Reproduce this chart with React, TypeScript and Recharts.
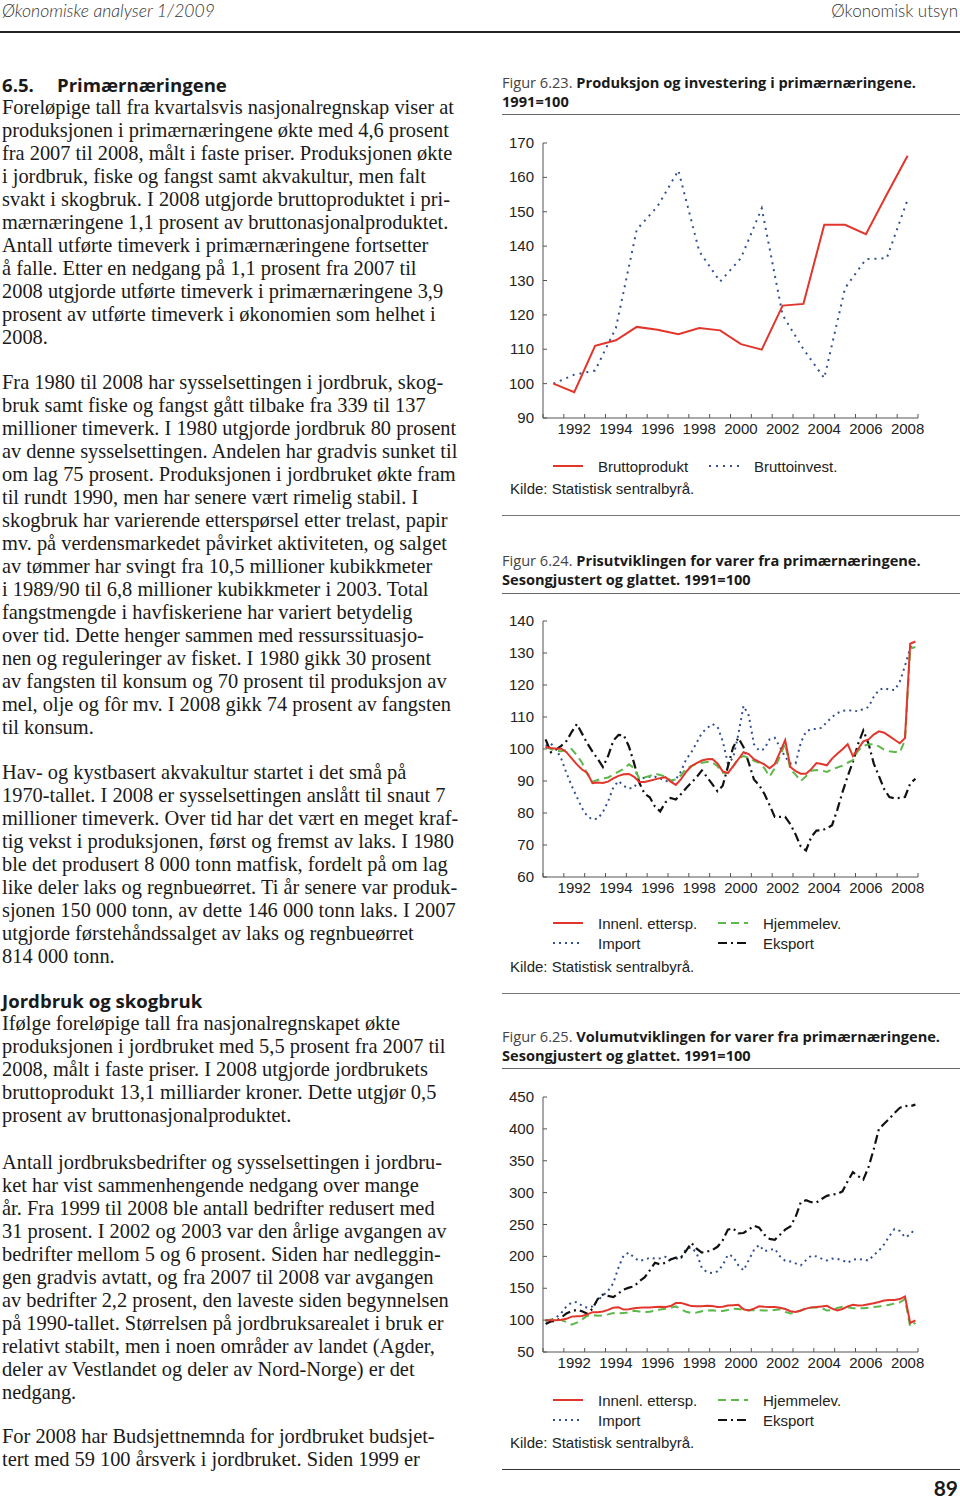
import { LineChart, Line, XAxis, YAxis } from "recharts";

// Figur 6.23 - årlige tall, 1991=100
const years = [1991, 1992, 1993, 1994, 1995, 1996, 1997, 1998, 1999, 2000, 2001, 2002, 2003, 2004, 2005, 2006, 2007, 2008];
const bruttoprodukt = [100, 97.5, 111, 112.6, 116.5, 115.7, 114.4, 116.2, 115.5, 111.5, 109.9, 122.7, 123.2, 146.2, 146.2, 143.5, 155, 166.3];
const bruttoinvest = [100, 102.6, 103.8, 116.2, 144.8, 151.6, 162, 138.5, 129.7, 136.5, 151, 120, 110, 101.6, 127.8, 136.2, 136.5, 153.5];

// Figur 6.24 - priser, kvartalstall 1991K1-2008K4
const quarters = ["K1", "K2", "K3", "K4"];
const prisInnenl = [
  100.6, 100.3, 100.1, 100.1, 99, 97.1, 95.2, 93.6, 92.5, 89.3, 89.5, 89.4,
  89.8, 90.8, 91.6, 92.1, 92.2, 91.3, 89.7, 89.7, 90.1, 90.5, 90.9, 91.2,
  89.8, 88.8, 90.6, 92.9, 94.7, 95.6, 96.4, 96.8, 96.9, 95.5, 93, 92.5,
  94.6, 96.8, 99, 98.4, 96.8, 96, 95.2, 94, 95.3, 99, 102.8, 94.4,
  93.1, 92.3, 92.3, 93.7, 95.6, 95.3, 94.9, 97, 98.5, 99.9, 101.5, 97.8,
  100, 102.4, 103, 104.5, 105.5, 105.1, 104, 102.9, 101.8, 103.4, 132.9, 133.6,
];
const prisHjemme = [
  100.6, 100, 99.4, 99.3, 99.8, 100, 98, 95.7, 92.2, 89.8, 90.3, 90.8,
  91.1, 92, 92.9, 93.8, 95.2, 94, 90.7, 91.1, 91.6, 92.3, 91.9, 91.4,
  90.2, 90.5, 91.8, 94, 94.6, 95.4, 95.7, 95.9, 95.9, 94.6, 92.6, 92.5,
  94.6, 97, 97.8, 97.2, 96.3, 95.7, 94, 91.4, 94, 97.8, 101.7, 93.5,
  92, 90, 91.5, 93.2, 93.4, 93.3, 92.8, 93.7, 94.2, 94.8, 95.7, 96.5,
  99.5, 101, 101.4, 101.5, 100.8, 99.8, 99.3, 99.1, 99, 102.7, 131.4, 131.9,
];
const prisImport = [
  101, 101.7, 100, 97, 92.5, 88.5, 85, 81.5, 79, 78, 78.2, 80.3,
  83.6, 88, 90, 88.5, 87.6, 88, 90.6, 91, 91.3, 91.3, 90.8, 90,
  89.9, 90.5, 93, 96.8, 99, 102, 105, 106.5, 107.8, 107, 102.5, 95.5,
  97.2, 104.5, 113.5, 110.5, 101.5, 99.5, 100, 103, 103.5, 100.6, 97.5, 95.5,
  95.5, 102, 105.5, 106.2, 106.3, 106.6, 108.4, 110, 111.2, 111.9, 112.1, 112,
  111.8, 112.5, 113.1, 116.3, 118.5, 119, 118.6, 118.4, 121, 126, 131.5, 132.6,
];
const prisEksport = [
  103, 99, 99.8, 101, 102.5, 105.3, 107.8, 104.8, 101.8, 99.2, 96.9, 94.4,
  97.8, 102.6, 104.4, 104.3, 100.8, 95.5, 89.4, 86, 84.9, 82, 80.5, 83.3,
  84.7, 84.2, 85.9, 87.8, 89.5, 91.2, 93.3, 91.2, 89, 86.8, 88.5, 94.5,
  100.5, 103.5, 100.6, 95.7, 90.5, 88.7, 86, 82.5, 78.8, 78.8, 78.8, 76.5,
  73.3, 69.5, 68.3, 72.5, 74.5, 74.6, 75.2, 76.2, 81, 86.5, 91.5, 96,
  101.6, 105.8, 101.7, 95.5, 91.5, 87.5, 85, 84.6, 84.7, 85, 89.2, 90.7,
];

// Figur 6.25 - volum, kvartalstall 1991K1-2008K4
const volInnenl = [
  100, 100, 100, 100.5, 102, 105.5, 106, 106.5, 109, 112.5, 112.5, 113.5,
  116, 119.5, 120, 116.5, 117, 118.5, 119.5, 120, 120, 120.5, 121, 120.5,
  122, 126.8, 127, 124.5, 122, 121.6, 121.6, 122.5, 122, 120.5, 121, 123,
  123.5, 124, 117, 115, 118, 121.6, 121, 120.6, 120.6, 119.5, 117.5, 114,
  112.7, 115, 118, 120, 120.5, 121.5, 122.5, 118, 115, 117.5, 121.5, 124,
  123, 123.5, 125, 126.5, 128.5, 130.8, 131.6, 131.6, 133, 137, 95.5, 99.7,
];
const volHjemme = [
  99, 101, 100.5, 100, 97, 93, 96, 101, 107, 108, 107, 107.5,
  109, 111, 110.5, 111, 112.5, 114.5, 113.5, 112.5, 113, 115, 116.5, 118,
  119.5, 121.5, 117, 113, 111, 112, 114, 115, 115.5, 114.5, 114.5, 116,
  118, 117.5, 116, 115.5, 115.5, 115.5, 115, 115, 116, 117, 113, 110.6,
  112, 115, 118.5, 119.5, 120, 119, 115, 116, 119, 121, 120, 118.5,
  118.5, 118.5, 119.5, 120.5, 121.5, 122.5, 124, 126, 128, 133, 90, 96,
];
const volImport = [
  98.9, 100, 104, 111, 121.5, 127.5, 128.5, 122.5, 119.3, 121.5, 131, 138.4,
  146, 158, 182.5, 202, 205.8, 198, 192.6, 194.8, 197.8, 196.5, 197, 199.4,
  195.8, 196.3, 198, 212, 214, 205, 181.8, 175, 174, 176.5, 186, 202.7,
  200, 186, 178, 194, 210, 218, 208, 210, 212, 200, 193, 192,
  189, 186, 194, 201, 200, 196.5, 193.5, 196.5, 196, 194, 190, 194.8,
  196, 195, 193.3, 202, 209, 219, 232, 243, 240, 230, 234, 244.5,
];
const volEksport = [
  94, 98, 98.5, 104, 110.5, 114, 116, 114, 110, 118, 133, 140,
  138, 136, 142, 148, 151, 153, 161, 167, 178, 190, 187.5, 190,
  195, 198, 198, 209, 221, 212, 206, 207.5, 210, 215, 225, 242,
  244, 236, 236.7, 242, 248, 245, 234, 227.5, 226, 234, 242, 247,
  262, 285, 288, 285, 284.5, 290, 295, 297, 298, 302, 318, 332,
  326, 320.3, 340, 368, 400, 408, 416, 425, 433, 436, 435.5, 438,
];

const yearTicks = [...years, 2009];
const PLOT_W = 375;
const YEAR_W = PLOT_W / 18;

const RED = "#e2362c";
const BLUE = "#33508f";
const GREEN = "#5db84a";
const BLACK = "#111";

const annualData = years.map((y, i) => ({
  x: y + 0.5,
  brutto: bruttoprodukt[i],
  invest: bruttoinvest[i],
}));

const quarterRows = (a: number[], b: number[], c: number[], d: number[]) =>
  years.flatMap((y, i) =>
    quarters.map((q, j) => ({
      x: y + (j + 0.5) / 4,
      label: `${y}${q}`,
      innenl: a[i * 4 + j],
      hjemme: b[i * 4 + j],
      import: c[i * 4 + j],
      eksport: d[i * 4 + j],
    }))
  );

const prisData = quarterRows(prisInnenl, prisHjemme, prisImport, prisEksport);
const volumData = quarterRows(volInnenl, volHjemme, volImport, volEksport);

const axisFont = "'Liberation Sans', Arial, sans-serif";
const titleFont = "'Open Sans', Lato, sans-serif";
const headFont = "Lato, 'Open Sans', sans-serif";
const bodyFont = "'Liberation Serif', 'Times New Roman', serif";

function YearTick(props: any) {
  const { x, y, payload } = props;
  const yr = payload.value;
  return (
    <g>
      <line x1={x} x2={x} y1={y} y2={y - 4} stroke="#555" />
      {yr % 2 === 0 && yr < 2009 && (
        <text x={x + YEAR_W / 2} y={y + 16} textAnchor="middle" fontSize={15} fontFamily={axisFont} fill="#222">
          {yr}
        </text>
      )}
    </g>
  );
}

function ValueTick(props: any) {
  const { x, y, payload } = props;
  return (
    <g>
      <line x1={x} x2={x + 4} y1={y} y2={y} stroke="#555" />
      <text x={x - 9} y={y + 5} textAnchor="end" fontSize={15} fontFamily={axisFont} fill="#222">
        {payload.value}
      </text>
    </g>
  );
}

interface SeriesDef {
  key: string;
  color: string;
  dash?: string;
  width?: number;
}

function Chart({ top, plotH, data, series, domain, ticks }: { top: number; plotH: number; data: any[]; series: SeriesDef[]; domain: [number, number]; ticks: number[] }) {
  return (
    <div style={{ position: "absolute", left: 500, top }}>
      <LineChart width={460} height={13 + plotH + 30} data={data} margin={{ top: 13, right: 42, left: 0, bottom: 0 }}>
        <XAxis
          dataKey="x"
          type="number"
          domain={[1991, 2009]}
          ticks={yearTicks}
          interval={0}
          height={30}
          tickSize={0}
          tickMargin={0}
          tickLine={false}
          tick={<YearTick />}
          axisLine={{ stroke: "#555" }}
        />
        <YAxis
          type="number"
          domain={domain}
          ticks={ticks}
          interval={0}
          width={43}
          tickSize={0}
          tickMargin={0}
          tickLine={false}
          tick={<ValueTick />}
          axisLine={{ stroke: "#555" }}
        />
        {series.map((s) => (
          <Line
            key={s.key}
            dataKey={s.key}
            type="linear"
            stroke={s.color}
            strokeWidth={s.width ?? 2}
            strokeDasharray={s.dash}
            dot={false}
            isAnimationActive={false}
          />
        ))}
      </LineChart>
    </div>
  );
}

function LegendItem({ left, top, color, dash, label }: { left: number; top: number; color: string; dash?: string; label: string }) {
  return (
    <div style={{ position: "absolute", left, top, height: 20, display: "flex", alignItems: "center", whiteSpace: "nowrap" }}>
      <svg width={30} height={4} style={{ display: "block" }}>
        <line x1={0} x2={30} y1={2} y2={2} stroke={color} strokeWidth={2} strokeDasharray={dash} />
      </svg>
      <span style={{ marginLeft: 15, fontFamily: axisFont, fontSize: 15, color: "#222" }}>{label}</span>
    </div>
  );
}

function Rule({ top, left = 502, width = 458, color = "#666", h = 1.5 }: { top: number; left?: number; width?: number; color?: string; h?: number }) {
  return <div style={{ position: "absolute", left, top, width, height: h, background: color }} />;
}

function FigTitle({ top, num, lines }: { top: number; num: string; lines: string[] }) {
  return (
    <div style={{ position: "absolute", left: 502, top, fontFamily: titleFont, fontSize: 14.6, lineHeight: "19px", color: "#1a1a1a", whiteSpace: "nowrap" }}>
      <div>
        <span style={{ fontWeight: 400, color: "#444" }}>{num} </span>
        <span style={{ fontWeight: 700 }}>{lines[0]}</span>
      </div>
      <div style={{ fontWeight: 700 }}>{lines[1]}</div>
    </div>
  );
}

function Kilde({ top }: { top: number }) {
  return (
    <div style={{ position: "absolute", left: 510, top, fontFamily: axisFont, fontSize: 15, lineHeight: "20px", color: "#222" }}>
      Kilde: Statistisk sentralbyrå.
    </div>
  );
}

function Para({ top, lines, heading }: { top: number; lines: string[]; heading?: React.ReactNode }) {
  return (
    <div style={{ position: "absolute", left: 2, top, fontFamily: bodyFont, fontSize: 20.4, lineHeight: "23px", color: "#1a1a1a" }}>
      {heading && (
        <div style={{ fontFamily: titleFont, fontWeight: 700, fontSize: 18.6, height: 23, whiteSpace: "nowrap" }}>{heading}</div>
      )}
      {lines.map((l, i) => (
        <div key={i} style={{ height: 23, whiteSpace: "nowrap" }}>
          {l}
        </div>
      ))}
    </div>
  );
}

const quarterSeries: SeriesDef[] = [
  { key: "import", color: BLUE, dash: "2 4" },
  { key: "eksport", color: BLACK, dash: "9 4 2 4", width: 2.2 },
  { key: "hjemme", color: GREEN, dash: "8 5" },
  { key: "innenl", color: RED },
];

export default function App() {
  return (
    <div style={{ position: "absolute", left: 0, top: 0, width: 960, height: 1499, background: "#fff", overflow: "hidden" }}>
      {/* sidehode */}
      <div style={{ position: "absolute", left: 2, top: 0, fontFamily: headFont, fontStyle: "italic", fontWeight: 300, fontSize: 17.6, lineHeight: "22px", color: "#333" }}>
        Økonomiske analyser 1/2009
      </div>
      <div style={{ position: "absolute", right: 2, top: 0, fontFamily: headFont, fontWeight: 300, fontSize: 17, lineHeight: "22px", color: "#333" }}>
        Økonomisk utsyn
      </div>
      <Rule top={31} left={0} width={960} color="#222" h={2} />

      {/* venstre spalte */}
      <Para
        top={72.5}
        heading={
          <>
            <span style={{ display: "inline-block", width: 55 }}>6.5.</span>Primærnæringene
          </>
        }
        lines={[
          "Foreløpige tall fra kvartalsvis nasjonalregnskap viser at",
          "produksjonen i primærnæringene økte med 4,6 prosent",
          "fra 2007 til 2008, målt i faste priser. Produksjonen økte",
          "i jordbruk, fiske og fangst samt akvakultur, men falt",
          "svakt i skogbruk. I 2008 utgjorde bruttoproduktet i pri-",
          "mærnæringene 1,1 prosent av bruttonasjonalproduktet.",
          "Antall utførte timeverk i primærnæringene fortsetter",
          "å falle. Etter en nedgang på 1,1 prosent fra 2007 til",
          "2008 utgjorde utførte timeverk i primærnæringene 3,9",
          "prosent av utførte timeverk i økonomien som helhet i",
          "2008.",
        ]}
      />
      <Para
        top={370.5}
        lines={[
          "Fra 1980 til 2008 har sysselsettingen i jordbruk, skog-",
          "bruk samt fiske og fangst gått tilbake fra 339 til 137",
          "millioner timeverk. I 1980 utgjorde jordbruk 80 prosent",
          "av denne sysselsettingen. Andelen har gradvis sunket til",
          "om lag 75 prosent. Produksjonen i jordbruket økte fram",
          "til rundt 1990, men har senere vært rimelig stabil. I",
          "skogbruk har varierende etterspørsel etter trelast, papir",
          "mv. på verdensmarkedet påvirket aktiviteten, og salget",
          "av tømmer har svingt fra 10,5 millioner kubikkmeter",
          "i 1989/90 til 6,8 millioner kubikkmeter i 2003. Total",
          "fangstmengde i havfiskeriene har variert betydelig",
          "over tid. Dette henger sammen med ressurssituasjo-",
          "nen og reguleringer av fisket. I 1980 gikk 30 prosent",
          "av fangsten til konsum og 70 prosent til produksjon av",
          "mel, olje og fôr mv. I 2008 gikk 74 prosent av fangsten",
          "til konsum.",
        ]}
      />
      <Para
        top={760.5}
        lines={[
          "Hav- og kystbasert akvakultur startet i det små på",
          "1970-tallet. I 2008 er sysselsettingen anslått til snaut 7",
          "millioner timeverk. Over tid har det vært en meget kraf-",
          "tig vekst i produksjonen, først og fremst av laks. I 1980",
          "ble det produsert 8 000 tonn matfisk, fordelt på om lag",
          "like deler laks og regnbueørret. Ti år senere var produk-",
          "sjonen 150 000 tonn, av dette 146 000 tonn laks. I 2007",
          "utgjorde førstehåndssalget av laks og regnbueørret",
          "814 000 tonn.",
        ]}
      />
      <Para
        top={988.5}
        heading="Jordbruk og skogbruk"
        lines={[
          "Ifølge foreløpige tall fra nasjonalregnskapet økte",
          "produksjonen i jordbruket med 5,5 prosent fra 2007 til",
          "2008, målt i faste priser. I 2008 utgjorde jordbrukets",
          "bruttoprodukt 13,1 milliarder kroner. Dette utgjør 0,5",
          "prosent av bruttonasjonalproduktet.",
        ]}
      />
      <Para
        top={1150.5}
        lines={[
          "Antall jordbruksbedrifter og sysselsettingen i jordbru-",
          "ket har vist sammenhengende nedgang over mange",
          "år. Fra 1999 til 2008 ble antall bedrifter redusert med",
          "31 prosent. I 2002 og 2003 var den årlige avgangen av",
          "bedrifter mellom 5 og 6 prosent. Siden har nedleggin-",
          "gen gradvis avtatt, og fra 2007 til 2008 var avgangen",
          "av bedrifter 2,2 prosent, den laveste siden begynnelsen",
          "på 1990-tallet. Størrelsen på jordbruksarealet i bruk er",
          "relativt stabilt, men i noen områder av landet (Agder,",
          "deler av Vestlandet og deler av Nord-Norge) er det",
          "nedgang.",
        ]}
      />
      <Para
        top={1424.5}
        lines={[
          "For 2008 har Budsjettnemnda for jordbruket budsjet-",
          "tert med 59 100 årsverk i jordbruket. Siden 1999 er",
        ]}
      />

      {/* Figur 6.23 */}
      <FigTitle top={72.5} num="Figur 6.23." lines={["Produksjon og investering i primærnæringene.", "1991=100"]} />
      <Rule top={113.5} />
      <Chart
        top={130}
        plotH={275}
        data={annualData}
        domain={[90, 170]}
        ticks={[90, 100, 110, 120, 130, 140, 150, 160, 170]}
        series={[
          { key: "invest", color: BLUE, dash: "2 5" },
          { key: "brutto", color: RED },
        ]}
      />
      <LegendItem left={553} top={456} color={RED} label="Bruttoprodukt" />
      <LegendItem left={709} top={456} color={BLUE} dash="2 5" label="Bruttoinvest." />
      <Kilde top={479} />
      <Rule top={514.5} color="#777" />

      {/* Figur 6.24 */}
      <FigTitle top={550.5} num="Figur 6.24." lines={["Prisutviklingen for varer fra primærnæringene.", "Sesongjustert og glattet. 1991=100"]} />
      <Rule top={592.5} />
      <Chart
        top={608}
        plotH={256}
        data={prisData}
        domain={[60, 140]}
        ticks={[60, 70, 80, 90, 100, 110, 120, 130, 140]}
        series={quarterSeries}
      />
      <LegendItem left={553} top={913} color={RED} label="Innenl. ettersp." />
      <LegendItem left={718} top={913} color={GREEN} dash="8 5" label="Hjemmelev." />
      <LegendItem left={553} top={933} color={BLUE} dash="2 4" label="Import" />
      <LegendItem left={718} top={933} color={BLACK} dash="9 4 2 4" label="Eksport" />
      <Kilde top={957} />
      <Rule top={992.5} color="#777" />

      {/* Figur 6.25 */}
      <FigTitle top={1026.5} num="Figur 6.25." lines={["Volumutviklingen for varer fra primærnæringene.", "Sesongjustert og glattet. 1991=100"]} />
      <Rule top={1067.5} />
      <Chart
        top={1084}
        plotH={255}
        data={volumData}
        domain={[50, 450]}
        ticks={[50, 100, 150, 200, 250, 300, 350, 400, 450]}
        series={quarterSeries}
      />
      <LegendItem left={553} top={1390} color={RED} label="Innenl. ettersp." />
      <LegendItem left={718} top={1390} color={GREEN} dash="8 5" label="Hjemmelev." />
      <LegendItem left={553} top={1410} color={BLUE} dash="2 4" label="Import" />
      <LegendItem left={718} top={1410} color={BLACK} dash="9 4 2 4" label="Eksport" />
      <Kilde top={1433} />
      <Rule top={1468.5} color="#333" />

      <div style={{ position: "absolute", right: 2, top: 1476, fontFamily: headFont, fontWeight: 700, fontSize: 21, lineHeight: "24px", color: "#1a1a1a" }}>
        89
      </div>
    </div>
  );
}
